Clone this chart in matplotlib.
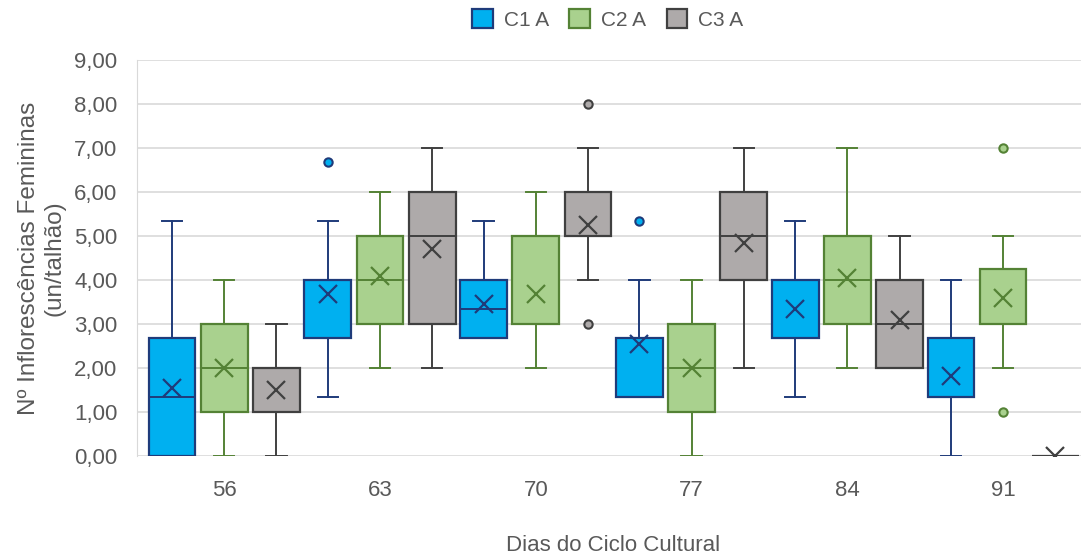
import matplotlib.pyplot as plt
from matplotlib.patches import Patch
from matplotlib.ticker import FuncFormatter

dias = ["56", "63", "70", "77", "84", "91"]
series = ["C1 A", "C2 A", "C3 A"]

# five-number summaries, one list per series
c1_low = [0, 1.33, 2.67, 1.33, 1.33, 0]
c1_q1 = [0, 2.67, 2.67, 1.33, 2.67, 1.33]
c1_med = [1.33, 4, 3.33, 2.67, 4, 2.67]
c1_q3 = [2.67, 4, 4, 2.67, 4, 2.67]
c1_high = [5.33, 5.33, 5.33, 4, 5.33, 4]
c1_mean = [1.55, 3.67, 3.45, 2.55, 3.33, 1.82]
c1_out = [[], [6.67], [], [5.33], [], []]

c2_low = [0, 2, 2, 0, 2, 2]
c2_q1 = [1, 3, 3, 1, 3, 3]
c2_med = [2, 4, 3, 2, 4, 3]
c2_q3 = [3, 5, 5, 3, 5, 4.25]
c2_high = [4, 6, 6, 4, 7, 5]
c2_mean = [2.0, 4.1, 3.67, 2.0, 4.05, 3.6]
c2_out = [[], [], [], [], [], [7, 1]]

c3_low = [0, 2, 4, 2, 2, 0]
c3_q1 = [1, 3, 5, 4, 2, 0]
c3_med = [1, 5, 5, 5, 3, 0]
c3_q3 = [2, 6, 6, 6, 4, 0]
c3_high = [3, 7, 7, 7, 5, 0]
c3_mean = [1.5, 4.7, 5.25, 4.85, 3.1, 0]
c3_out = [[], [], [8, 3], [], [], []]

fills = ["#00B0F0", "#A9D18E", "#AEAAAA"]
edges = ["#1F3B7A", "#548235", "#404040"]

def stats(low, q1, med, q3, high, mean, out):
    res = []
    for i in range(len(low)):
        res.append(dict(whislo=low[i], q1=q1[i], med=med[i], q3=q3[i],
                        whishi=high[i], mean=mean[i], fliers=out[i]))
    return res

all_stats = [
    stats(c1_low, c1_q1, c1_med, c1_q3, c1_high, c1_mean, c1_out),
    stats(c2_low, c2_q1, c2_med, c2_q3, c2_high, c2_mean, c2_out),
    stats(c3_low, c3_q1, c3_med, c3_q3, c3_high, c3_mean, c3_out),
]

plt.rcParams['font.family'] = ['Liberation Sans', 'DejaVu Sans']

fig = plt.figure(figsize=(10.85, 5.59), dpi=100)
ax = fig.add_axes([0.1263, 0.1843, 0.8700, 0.7084])

offsets = [-0.335, 0, 0.335]
w = 0.30
for s in range(3):
    pos = [i + offsets[s] for i in range(len(dias))]
    ec = edges[s]
    ax.bxp(all_stats[s], positions=pos, widths=w, capwidths=0.13,
           showmeans=True, patch_artist=True, manage_ticks=False,
           boxprops=dict(facecolor=fills[s], edgecolor=ec, linewidth=1.6),
           medianprops=dict(color=ec, linewidth=1.4),
           whiskerprops=dict(color=ec, linewidth=1.4),
           capprops=dict(color=ec, linewidth=1.4),
           meanprops=dict(marker="x", markeredgecolor=ec, markersize=13,
                          markeredgewidth=1.6),
           flierprops=dict(marker="o", markerfacecolor=fills[s],
                           markeredgecolor=ec, markersize=6,
                           markeredgewidth=1.5))

ax.set_ylim(0, 9)
ax.set_xlim(-0.56, 5.5)
ax.set_yticks(range(0, 10))
ax.yaxis.set_major_formatter(FuncFormatter(lambda v, p: f"{v:.2f}".replace(".", ",")))
ax.set_xticks(range(len(dias)))
ax.set_xticklabels(dias)
ax.tick_params(axis="both", length=0, labelsize=16, labelcolor="#595959")
ax.tick_params(axis="x", pad=17)
ax.tick_params(axis="y", pad=14)
ax.grid(axis="y", color="#D9D9D9", linewidth=1.2)
ax.set_axisbelow(True)
for sp in ["top", "right", "bottom"]:
    ax.spines[sp].set_visible(False)
ax.spines["left"].set_color("#D9D9D9")

ax.set_ylabel("Nº Inflorescências Femininas\n(un/talhão)", fontsize=17.5,
              color="#595959", labelpad=6, linespacing=1.25)
fig.text(0.565, 0.025, "Dias do Ciclo Cultural", fontsize=16,
         color="#595959", ha="center", va="center")

handles = [Patch(facecolor=fills[s], edgecolor=edges[s], linewidth=1.6)
           for s in range(3)]
fig.legend(handles, series, loc="center", bbox_to_anchor=(0.56, 0.965),
           ncol=3, frameon=False, fontsize=15, handlelength=1.0,
           handleheight=1.0, columnspacing=1.0, handletextpad=0.5,
           labelcolor="#595959")

fig.savefig("out.png", dpi=100)
